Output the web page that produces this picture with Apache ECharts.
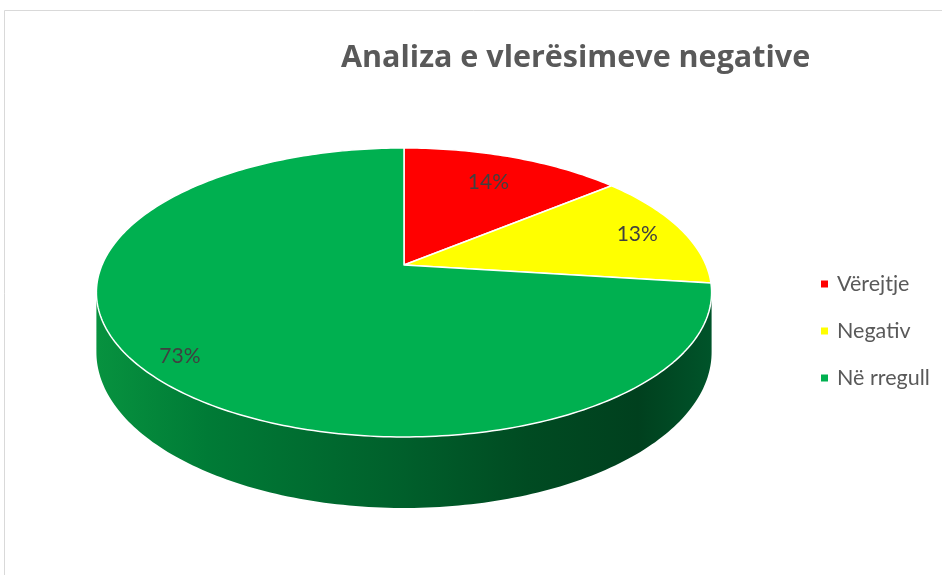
<!DOCTYPE html>
<html>
<head>
<meta charset="utf-8">
<script src="https://cdn.jsdelivr.net/npm/echarts@6/dist/echarts.min.js"></script>
<style>html,body{margin:0;padding:0;background:#fff}#c{width:942px;height:575px}</style>
</head>
<body>
<div id="c"></div>
<script>
// ---- data ----
const titleText = 'Analiza e vlerësimeve negative';
const categories = ['Vërejtje', 'Negativ', 'Në rregull'];
const values = [14, 13, 73];
const colors = ['#FF0000', '#FFFF00', '#00B050'];

// ---- layout / style constants ----
const CX = 404, CY = 265, RX = 302, RY = 139.3, K = 0.19, DROP = 57.5;
const labelRadius = [0.74, 0.84, 0.88];
const FONT = 'Lato, "Open Sans", sans-serif';

const total = values.reduce((a, b) => a + b, 0);
const cum = [];
values.reduce((acc, v, i) => { cum[i] = acc; return acc + v; }, 0);

function proj(theta, r, drop) {
  const X = r * Math.sin(theta), Z = -r * Math.cos(theta);
  const w = 1 - K * Z;
  return [CX + RX * X / w, CY + (RY * Z + (drop || 0)) / w];
}
const silL = Math.acos(-K), silR = 2 * Math.PI - Math.acos(-K);

function arc(a0, a1, drop) {
  const pts = [];
  const n = Math.max(2, Math.ceil(Math.abs(a1 - a0) / (Math.PI / 180)));
  for (let j = 0; j <= n; j++) pts.push(proj(a0 + (a1 - a0) * j / n, 1, drop));
  return pts;
}

function makeSeries(i) {
  return {
    type: 'custom',
    name: categories[i],
    coordinateSystem: 'none',
    itemStyle: { color: colors[i] },
    data: [values[i]],
    renderItem: function (params, api) {
      const v = api.value(0);
      const a0 = cum[i] / total * 2 * Math.PI;
      const a1 = (cum[i] + v) / total * 2 * Math.PI;
      const children = [];
      const s = Math.max(a0, silL), e = Math.min(a1, silR);
      if (e > s) {
        const wall = arc(s, e, 0).concat(arc(e, s, DROP));
        children.push({
          type: 'polygon', z2: 1,
          shape: { points: wall },
          style: {
            fill: new echarts.graphic.LinearGradient(0, 0, 1, 0, [
              { offset: 0, color: '#07923f' },
              { offset: 0.18, color: '#007b36' },
              { offset: 0.5, color: '#005f2b' },
              { offset: 0.7, color: '#004b22' },
              { offset: 0.88, color: '#00401e' },
              { offset: 1, color: '#00542a' }
            ]),
            stroke: null
          }
        });
      }
      const top = [[CX, CY]].concat(arc(a0, a1, 0));
      children.push({
        type: 'polygon', z2: 5,
        shape: { points: top },
        style: { fill: colors[i], stroke: '#ffffff', lineWidth: 1.5, lineJoin: 'round' }
      });
      const mid = (a0 + a1) / 2;
      const lp = proj(mid, labelRadius[i], 0);
      children.push({
        type: 'text', z2: 10,
        x: lp[0], y: lp[1],
        style: {
          text: Math.round(v / total * 100) + '%',
          fill: '#404040', fontSize: 21, fontFamily: FONT,
          align: 'center', verticalAlign: 'middle'
        }
      });
      return { type: 'group', children: children };
    }
  };
}

const chart = echarts.init(document.getElementById('c'), null, { renderer: 'canvas' });
chart.setOption({
  animation: false,
  backgroundColor: '#ffffff',
  title: {
    text: titleText,
    left: 336, top: 38,
    textStyle: { color: '#595959', fontSize: 30.5, fontWeight: 'bold', fontFamily: '"Open Sans", Lato, sans-serif' }
  },
  legend: {
    orient: 'vertical',
    left: 816, top: 268,
    itemWidth: 7, itemHeight: 7, itemGap: 25,
    icon: 'rect',
    data: categories,
    textStyle: { color: '#595959', fontSize: 21.5, fontFamily: FONT, lineHeight: 20.5, padding: [0, 0, 0, 4] }
  },
  graphic: [{
    type: 'rect', silent: true, z: -10,
    shape: { x: 4.5, y: 10.5, width: 960, height: 600 },
    style: { fill: null, stroke: '#d9d9d9', lineWidth: 1 }
  }],
  series: categories.map((c, i) => makeSeries(i))
});
</script>
</body>
</html>
